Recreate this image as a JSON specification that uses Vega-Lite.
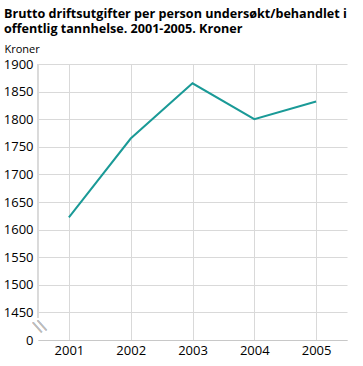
{
  "$schema": "https://vega.github.io/schema/vega-lite/v6.json",
  "width": 309,
  "height": 276,
  "autosize": {"type": "none"},
  "padding": {"left": 38, "top": 64, "right": 16, "bottom": 26},
  "background": "white",
  "config": {
    "view": {"stroke": null},
    "font": "Open Sans"
  },
  "title": {
    "text": ["Brutto driftsutgifter per person undersøkt/behandlet i", "offentlig tannhelse. 2001-2005. Kroner"],
    "anchor": "start",
    "frame": "group",
    "font": "Open Sans",
    "fontSize": 12.6,
    "fontWeight": "bold",
    "color": "#000000",
    "lineHeight": 15,
    "dx": -34,
    "offset": 7
  },
  "data": {
    "values": [
      {"year": "2001", "value": 1622},
      {"year": "2002", "value": 1765},
      {"year": "2003", "value": 1865},
      {"year": "2004", "value": 1800},
      {"year": "2005", "value": 1832}
    ]
  },
  "layer": [
    {
      "mark": {"type": "line", "color": "#1a9a97", "strokeWidth": 2},
      "encoding": {
        "x": {
          "field": "year",
          "type": "ordinal",
          "scale": {"type": "point", "padding": 0.5},
          "axis": {
            "title": null,
            "labelAngle": 0,
            "labelFontSize": 13,
            "labelColor": "#000000",
            "labelPadding": 4,
            "ticks": false,
            "domainColor": "#c8c8c8",
            "gridColor": "#d9d9d9",
            "grid": true
          }
        },
        "y": {
          "field": "value",
          "type": "quantitative",
          "scale": {"domain": [1400, 1900], "nice": false, "zero": false},
          "axis": {
            "values": [1400, 1450, 1500, 1550, 1600, 1650, 1700, 1750, 1800, 1850, 1900],
            "labelExpr": "datum.value == 1400 ? '0' : format(datum.value, 'd')",
            "labelOverlap": false,
            "labelFontSize": 13,
            "labelColor": "#000000",
            "labelPadding": 5,
            "ticks": false,
            "domain": false,
            "grid": true,
            "gridColor": "#d9d9d9",
            "title": "Kroner",
            "titleAngle": 0,
            "titleAlign": "left",
            "titleBaseline": "alphabetic",
            "titleX": -34,
            "titleY": -12,
            "titleFontSize": 11,
            "titleFontWeight": "normal",
            "titleColor": "#000000"
          }
        }
      }
    },
    {
      "mark": {"type": "rule", "color": "#d9d9d9", "strokeWidth": 1},
      "encoding": {
        "x": {"datum": 0, "type": "quantitative", "scale": {"domain": [0, 1]}, "axis": null},
        "y": {
          "datum": 1440,
          "type": "quantitative",
          "axis": {
            "values": [1400, 1450, 1500, 1550, 1600, 1650, 1700, 1750, 1800, 1850, 1900],
            "labelExpr": "datum.value == 1400 ? '0' : format(datum.value, 'd')",
            "labelOverlap": false,
            "labelFontSize": 13,
            "labelColor": "#000000",
            "labelPadding": 5,
            "ticks": false,
            "domain": false,
            "grid": true,
            "gridColor": "#d9d9d9",
            "title": "Kroner",
            "titleAngle": 0,
            "titleAlign": "left",
            "titleBaseline": "alphabetic",
            "titleX": -34,
            "titleY": -12,
            "titleFontSize": 11,
            "titleFontWeight": "normal",
            "titleColor": "#000000"
          }
        },
        "y2": {"datum": 1900}
      }
    },
    {
      "mark": {"type": "text", "text": "\\\\", "font": "DejaVu Sans", "fontSize": 15, "angle": -25, "color": "#bdbdbd", "align": "center", "baseline": "middle"},
      "encoding": {
        "x": {"datum": 0.005, "type": "quantitative", "scale": {"domain": [0, 1]}, "axis": null},
        "y": {
          "datum": 1425,
          "type": "quantitative",
          "axis": {
            "values": [1400, 1450, 1500, 1550, 1600, 1650, 1700, 1750, 1800, 1850, 1900],
            "labelExpr": "datum.value == 1400 ? '0' : format(datum.value, 'd')",
            "labelOverlap": false,
            "labelFontSize": 13,
            "labelColor": "#000000",
            "labelPadding": 5,
            "ticks": false,
            "domain": false,
            "grid": true,
            "gridColor": "#d9d9d9",
            "title": "Kroner",
            "titleAngle": 0,
            "titleAlign": "left",
            "titleBaseline": "alphabetic",
            "titleX": -34,
            "titleY": -12,
            "titleFontSize": 11,
            "titleFontWeight": "normal",
            "titleColor": "#000000"
          }
        }
      }
    }
  ],
  "resolve": {"scale": {"x": "independent"}}
}
